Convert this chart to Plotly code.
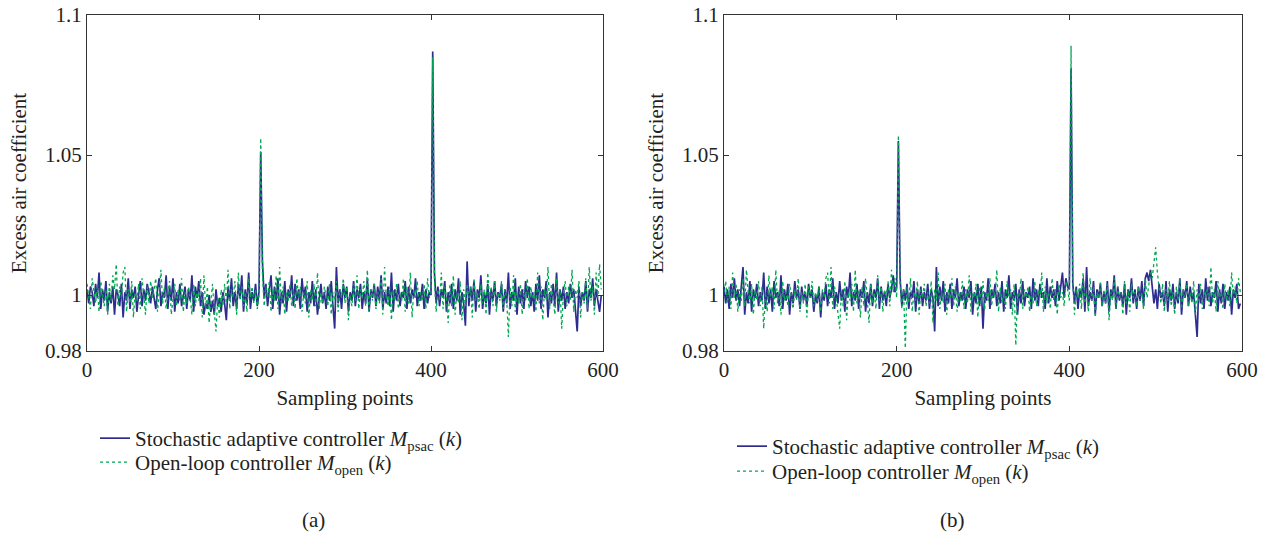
import plotly.graph_objects as go

# ---------------- data (sampled every 2 points, 0..598) ----------------
step = 2

psac_a = [
    1.002, 0.997, 1.003, 1.001, 0.996, 1.004, 0.999, 1.008, 0.995, 1.002, 0.998, 1.005, 0.994, 1.001, 0.997, 1.003, 0.993, 1.002, 1.000, 0.996,
    1.004, 0.992, 1.001, 0.998, 1.006, 0.995, 1.002, 0.999, 1.003, 0.994, 1.000, 1.005, 0.996, 1.002, 0.998, 1.004, 1.001, 0.997, 1.003, 0.999,
    0.995, 1.002, 1.006, 0.996, 1.001, 0.999, 1.007, 0.995, 1.003, 0.998, 1.006, 0.994, 1.001, 0.997, 1.004, 0.996, 1.000, 1.003, 0.995, 1.002,
    0.998, 1.007, 0.994, 1.003, 0.999, 1.005, 0.996, 1.001, 0.993, 0.997, 0.995, 1.000, 0.994, 0.998, 0.993, 1.002, 0.996, 0.999, 0.994, 1.001,
    0.997, 0.991, 1.003, 0.998, 1.006, 0.996, 1.001, 0.995, 1.004, 0.999, 1.007, 0.994, 1.002, 0.997, 1.008, 0.995, 1.001, 0.998, 1.004, 0.996,
    1.001, 1.051, 1.012, 0.999, 1.004, 0.996, 1.002, 1.007, 0.995, 1.003, 0.998, 1.006, 0.993, 1.001, 0.997, 1.005, 0.994, 1.002, 0.999, 1.007,
    0.996, 1.004, 0.998, 1.002, 0.995, 1.006, 0.999, 1.003, 0.994, 1.001, 0.997, 1.005, 0.996, 1.002, 0.993, 0.999, 1.004, 0.997, 1.001, 0.995,
    1.003, 0.998, 1.005, 0.996, 0.988, 1.010, 0.997, 1.002, 0.995, 1.004, 0.999, 1.003, 0.994, 1.001, 0.998, 1.005, 0.996, 1.002, 0.999, 1.004,
    0.995, 1.001, 0.997, 1.006, 0.994, 1.002, 0.999, 1.004, 0.996, 1.003, 0.998, 1.007, 0.995, 1.001, 0.997, 1.003, 0.996, 1.008, 0.994, 1.002,
    0.998, 1.004, 0.996, 1.001, 0.999, 1.005, 0.995, 1.003, 0.997, 1.002, 0.999, 1.006, 0.996, 1.001, 0.998, 1.004, 0.995, 1.002, 0.997, 1.001,
    1.000, 1.087, 1.008, 0.997, 1.003, 0.996, 1.002, 0.999, 1.005, 0.994, 1.001, 0.997, 1.004, 0.995, 1.002, 0.998, 1.006, 0.993, 1.001, 0.997,
    0.989, 1.012, 0.996, 1.003, 0.998, 1.005, 0.994, 1.002, 0.999, 1.007, 0.995, 1.001, 0.997, 1.004, 0.993, 1.002, 0.998, 1.005, 0.996, 1.001,
    0.999, 1.004, 0.994, 1.002, 0.997, 1.008, 0.995, 1.001, 0.998, 1.006, 0.993, 1.003, 0.997, 1.002, 0.995, 1.005, 0.999, 1.003, 0.996, 1.001,
    0.994, 1.004, 0.998, 1.007, 0.995, 1.002, 0.999, 1.005, 0.992, 1.001, 0.997, 1.004, 0.996, 1.008, 0.994, 1.002, 0.998, 1.003, 0.995, 1.001,
    0.997, 1.004, 0.999, 1.002, 0.995, 0.987, 1.003, 0.996, 1.001, 0.998, 1.005, 0.994, 1.002, 0.999, 1.006, 0.996, 1.002, 0.998, 0.994, 1.000,
]

open_a = [
    1.004, 0.999, 0.995, 1.006, 1.001, 0.997, 1.003, 0.994, 1.005, 1.000, 0.996, 1.002, 0.993, 1.004, 0.998, 1.007, 1.002, 1.011, 0.996, 1.003,
    0.999, 1.008, 1.010, 0.994, 1.002, 0.997, 1.005, 0.992, 1.001, 0.998, 1.004, 0.995, 1.006, 1.000, 0.993, 1.003, 0.997, 1.005, 0.999, 1.002,
    1.006, 0.994, 1.001, 1.009, 0.997, 1.003, 0.995, 1.000, 1.005, 0.993, 0.999, 1.004, 0.996, 1.002, 0.998, 1.006, 0.994, 1.001, 0.997, 1.003,
    0.999, 0.993, 1.004, 0.996, 1.002, 0.998, 1.006, 0.992, 1.007, 0.995, 1.003, 0.990, 0.998, 1.004, 0.994, 0.987, 0.999, 0.992, 1.002, 0.996,
    1.004, 0.997, 1.009, 0.995, 1.002, 0.999, 1.005, 0.993, 1.008, 0.998, 1.003, 0.996, 1.001, 0.994, 1.006, 0.999, 1.003, 0.997, 1.002, 0.995,
    1.000, 1.056, 1.008, 0.996, 1.003, 0.999, 1.005, 0.994, 1.002, 0.998, 1.007, 0.995, 1.010, 0.997, 1.003, 0.993, 1.001, 0.998, 1.004, 0.996,
    1.002, 0.995, 1.006, 0.999, 1.003, 0.994, 1.001, 0.997, 1.005, 0.992, 1.002, 0.998, 1.004, 0.996, 1.008, 0.995, 1.001, 0.997, 1.003, 0.999,
    0.996, 1.004, 0.993, 1.001, 0.998, 1.005, 0.994, 1.002, 0.999, 1.006, 0.997, 1.003, 0.991, 1.000, 0.996, 1.004, 0.998, 1.007, 0.995, 1.002,
    0.999, 1.005, 0.996, 1.009, 0.994, 1.002, 0.998, 1.004, 0.995, 1.001, 0.997, 1.006, 0.993, 1.010, 0.999, 0.996, 1.003, 0.991, 1.002, 0.998,
    1.004, 0.995, 1.001, 0.998, 1.006, 0.994, 1.003, 0.997, 1.008, 0.992, 1.002, 0.999, 1.005, 0.996, 1.001, 0.998, 1.004, 0.995, 1.006, 0.999,
    1.001, 1.085, 1.006, 0.994, 1.002, 0.998, 1.008, 0.995, 1.003, 0.999, 0.990, 1.004, 0.996, 1.007, 0.993, 1.001, 0.997, 1.005, 0.991, 1.002,
    0.996, 1.004, 0.999, 1.003, 0.992, 1.006, 0.998, 1.001, 0.995, 1.004, 0.997, 1.002, 0.993, 1.008, 0.999, 1.003, 0.996, 1.005, 0.994, 1.001,
    0.998, 1.005, 0.995, 1.002, 0.999, 0.985, 1.003, 0.996, 1.007, 0.994, 1.001, 0.997, 1.004, 0.993, 1.002, 0.998, 1.006, 0.995, 1.003, 0.999,
    1.001, 0.994, 1.008, 0.997, 1.003, 0.991, 1.002, 0.998, 1.010, 0.995, 1.004, 0.999, 0.993, 1.006, 0.997, 1.002, 0.988, 1.001, 1.005, 0.996,
    1.003, 0.998, 1.009, 0.994, 1.002, 0.999, 1.005, 0.992, 1.001, 0.997, 1.006, 0.995, 1.010, 0.998, 1.003, 0.993, 1.008, 0.999, 1.011, 1.002,
]

psac_b = [
    1.003, 0.997, 1.002, 0.995, 1.004, 0.999, 1.006, 0.998, 1.002, 0.996, 1.003, 1.010, 0.993, 1.001, 0.997, 1.005, 0.994, 1.002, 0.999, 1.004,
    0.996, 1.001, 0.998, 1.008, 0.995, 1.003, 0.997, 1.002, 0.994, 1.005, 0.999, 1.001, 0.996, 1.007, 0.995, 1.002, 0.998, 1.004, 0.993, 1.001,
    0.997, 1.005, 0.999, 1.002, 0.995, 1.003, 0.998, 1.001, 0.996, 1.004, 0.999, 1.002, 0.994, 1.000, 0.997, 1.003, 0.992, 1.001, 0.998, 1.004,
    0.996, 1.002, 0.999, 1.006, 0.995, 1.001, 0.997, 1.005, 0.998, 1.002, 0.994, 1.003, 0.999, 1.008, 0.996, 1.001, 0.998, 1.004, 0.995, 1.002,
    0.999, 1.005, 0.994, 1.001, 0.997, 1.004, 0.996, 1.002, 0.999, 1.006, 0.995, 1.003, 0.998, 1.001, 0.996, 1.004, 0.999, 1.002, 1.007, 1.001,
    1.003, 1.055, 1.006, 0.996, 1.002, 0.998, 1.004, 0.995, 1.001, 0.999, 1.005, 0.994, 1.002, 0.997, 1.003, 0.996, 1.001, 0.998, 1.004, 0.995,
    1.002, 0.999, 0.987, 1.010, 0.996, 1.003, 0.998, 1.005, 0.994, 1.001, 0.997, 1.004, 0.995, 1.002, 0.999, 1.006, 0.996, 1.001, 0.998, 1.003,
    0.995, 1.002, 0.999, 1.005, 0.993, 1.001, 0.997, 1.004, 0.996, 1.003, 0.988, 1.001, 0.998, 1.006, 0.995, 1.002, 0.999, 1.004, 0.996, 1.001,
    0.997, 1.005, 0.994, 1.002, 0.999, 1.007, 0.995, 1.001, 0.998, 1.004, 0.993, 1.002, 0.997, 1.005, 0.996, 1.001, 0.999, 1.003, 0.995, 1.006,
    0.998, 1.002, 0.996, 1.004, 0.999, 1.001, 0.995, 1.006, 0.997, 1.003, 0.999, 1.002, 0.996, 1.005, 0.998, 1.004, 1.008, 0.999, 1.006, 1.003,
    1.002, 1.081, 1.004, 0.997, 1.003, 0.995, 1.002, 0.999, 1.006, 0.994, 1.010, 0.996, 1.001, 0.998, 1.005, 0.993, 1.002, 0.999, 1.004, 0.996,
    1.001, 0.997, 1.005, 0.994, 1.002, 0.999, 1.007, 0.995, 1.003, 0.998, 1.001, 0.996, 1.004, 0.993, 1.002, 0.999, 1.006, 0.997, 1.002, 0.995,
    1.003, 0.998, 1.005, 0.996, 1.006, 1.008, 1.005, 1.009, 1.004, 0.997, 1.002, 0.995, 1.004, 0.999, 1.001, 0.996, 1.005, 0.994, 1.002, 0.998,
    1.004, 0.995, 1.001, 0.997, 1.006, 0.993, 1.002, 0.999, 1.005, 0.996, 1.003, 0.998, 1.001, 0.994, 0.985, 1.004, 0.997, 1.002, 0.995, 1.006,
    0.998, 1.003, 0.996, 1.001, 0.999, 1.005, 0.994, 1.002, 0.997, 1.004, 0.995, 1.001, 0.998, 1.003, 0.993, 1.002, 0.999, 1.004, 0.995, 0.997,
]

open_b = [
    1.001, 1.005, 0.997, 1.003, 0.995, 1.008, 0.999, 1.004, 0.994, 1.002, 0.998, 1.006, 0.996, 1.009, 1.001, 0.997, 1.004, 0.993, 1.002, 0.998,
    1.005, 0.996, 1.003, 0.988, 1.001, 0.994, 1.007, 0.999, 1.003, 0.995, 1.009, 0.997, 1.002, 0.993, 1.005, 0.998, 1.001, 0.996, 1.004, 0.999,
    0.995, 1.002, 0.998, 1.006, 0.994, 1.001, 0.997, 1.004, 0.992, 1.003, 0.999, 1.005, 0.996, 1.001, 0.998, 1.003, 0.994, 1.002, 0.999, 1.006,
    1.008, 0.997, 1.010, 0.995, 1.003, 0.999, 0.993, 0.988, 1.002, 0.996, 1.005, 0.991, 1.001, 0.998, 1.004, 0.994, 1.009, 0.997, 1.002, 0.992,
    1.003, 0.996, 1.006, 0.999, 0.990, 1.004, 0.997, 1.001, 0.995, 1.007, 0.998, 1.003, 0.994, 1.002, 0.999, 1.005, 0.996, 1.009, 1.001, 1.006,
    0.999, 1.057, 1.004, 0.995, 1.002, 0.981, 1.003, 0.997, 1.006, 0.994, 1.001, 0.998, 1.005, 0.993, 1.002, 0.999, 1.004, 0.996, 1.001, 0.997,
    1.005, 0.990, 1.002, 0.998, 1.008, 0.995, 1.001, 0.997, 1.004, 0.993, 1.002, 0.999, 1.006, 0.996, 1.003, 0.994, 1.001, 0.998, 1.005, 0.995,
    1.002, 0.997, 1.007, 0.994, 1.001, 0.999, 1.004, 0.992, 1.003, 0.997, 1.005, 0.995, 1.001, 0.998, 1.006, 0.996, 1.002, 0.999, 1.009, 0.994,
    1.003, 0.997, 1.001, 0.995, 1.005, 0.999, 1.002, 0.993, 1.004, 0.982, 1.001, 0.998, 1.006, 0.995, 1.002, 0.999, 1.003, 0.994, 1.001, 0.997,
    1.005, 0.996, 1.002, 0.999, 1.008, 0.994, 1.003, 0.997, 1.001, 0.995, 1.006, 0.998, 1.002, 0.993, 1.004, 0.999, 1.001, 0.996, 1.005, 1.002,
    0.998, 1.089, 1.005, 0.993, 1.002, 0.999, 1.004, 0.995, 1.008, 0.997, 1.001, 0.994, 1.006, 0.998, 1.003, 0.992, 1.001, 0.999, 1.005, 0.996,
    1.002, 0.997, 1.004, 0.991, 1.001, 0.998, 1.006, 0.995, 1.003, 0.999, 1.001, 0.993, 1.005, 0.997, 1.002, 0.994, 1.004, 0.999, 1.001, 0.996,
    1.003, 0.998, 1.001, 0.995, 1.006, 0.999, 1.004, 1.008, 1.006, 1.012, 1.017, 1.008, 1.001, 0.997, 1.004, 0.994, 1.002, 0.998, 1.005, 0.996,
    1.001, 0.993, 1.003, 0.998, 1.006, 0.995, 1.002, 0.999, 1.004, 0.996, 1.001, 0.997, 1.005, 0.993, 1.002, 0.998, 1.004, 0.995, 1.001, 0.999,
    1.003, 0.996, 1.010, 0.997, 1.002, 0.994, 1.005, 0.999, 1.001, 0.995, 1.004, 0.998, 1.002, 0.996, 1.008, 0.999, 1.003, 0.997, 1.006, 1.001,
]

x_ticks = [0, 200, 400, 600]
y_ticks = [0.98, 1.0, 1.05, 1.1]
y_tick_labels = ["0.98", "1", "1.05", "1.1"]

name_psac = "Stochastic adaptive controller <i>M</i><sub>psac</sub> (<i>k</i>)"
name_open = "Open-loop controller <i>M</i><sub>open</sub> (<i>k</i>)"
panel_labels = ["(a)", "(b)"]

BLUE = "#2e2d8f"
GREEN = "#00a651"
FONT = "Liberation Serif"
FS = 21
W, H = 1269, 536


def px_x(p):                # screen pixel -> paper fraction
    return p / W


def px_y(p):
    return 1 - p / H


def xs(vals):
    return list(range(0, step * len(vals), step))


fig = go.Figure()
for vals, nm, col, dash, xa, ya, lg in [
    (psac_a, name_psac, BLUE, "solid", "x", "y", "legend"),
    (open_a, name_open, GREEN, "dot", "x", "y", "legend2"),
    (psac_b, name_psac, BLUE, "solid", "x2", "y2", "legend3"),
    (open_b, name_open, GREEN, "dot", "x2", "y2", "legend4"),
]:
    fig.add_trace(go.Scatter(
        x=xs(vals), y=vals, mode="lines", name=nm,
        line=dict(color=col, width=1.7 if dash == "solid" else 1.3, dash=dash),
        xaxis=xa, yaxis=ya, legend=lg,
    ))

axis_common = dict(
    showline=True, linecolor="#333333", linewidth=1.3, mirror="allticks",
    ticks="inside", ticklen=5, tickwidth=1.2, tickcolor="#333333",
    showgrid=False, zeroline=False, automargin=False, ticklabeloverflow="allow",
    tickfont=dict(family=FONT, size=FS, color="#231f20"),
)
title_font = dict(family=FONT, size=FS, color="#231f20")

xdom_a = [px_x(87), px_x(603)]
xdom_b = [px_x(724), px_x(1242)]
ydom = [px_y(351), px_y(15)]

legend_common = dict(xanchor="left", yanchor="top", bgcolor="rgba(0,0,0,0)",
                     font=dict(family=FONT, size=FS, color="#231f20"),
                     tracegroupgap=0, itemwidth=30)

fig.update_layout(
    width=W, height=H,
    margin=dict(l=0, r=0, t=0, b=0),
    paper_bgcolor="white", plot_bgcolor="white",
    font=dict(family=FONT, size=FS, color="#231f20"),
    xaxis=dict(domain=xdom_a, range=[0, 600], tickvals=x_ticks, anchor="y",
               title=dict(text="Sampling points", font=title_font, standoff=8), **axis_common),
    yaxis=dict(domain=ydom, range=[0.98, 1.1], tickvals=y_ticks, ticktext=y_tick_labels, anchor="x",
               title=dict(text="Excess air coefficient", font=title_font, standoff=12), **axis_common),
    xaxis2=dict(domain=xdom_b, range=[0, 600], tickvals=x_ticks, anchor="y2",
                title=dict(text="Sampling points", font=title_font, standoff=8), **axis_common),
    yaxis2=dict(domain=ydom, range=[0.98, 1.1], tickvals=y_ticks, ticktext=y_tick_labels, anchor="x2",
                title=dict(text="Excess air coefficient", font=title_font, standoff=12), **axis_common),
    legend=dict(x=px_x(95), y=px_y(418), **legend_common),
    legend2=dict(x=px_x(95), y=px_y(442), **legend_common),
    legend3=dict(x=px_x(732), y=px_y(426), **legend_common),
    legend4=dict(x=px_x(732), y=px_y(451), **legend_common),
    showlegend=True,
)

for lab, xc in zip(panel_labels, [313, 952]):
    fig.add_annotation(text=lab, x=px_x(xc), y=px_y(520), xref="paper", yref="paper",
                       showarrow=False, font=dict(family=FONT, size=FS, color="#231f20"),
                       xanchor="center", yanchor="middle")

# remove the browser's default 8px body margin so the figure fills the window exactly
fig.write_html("out.html", config={"displayModeBar": False},
               post_script="document.body.style.margin='0px';")
